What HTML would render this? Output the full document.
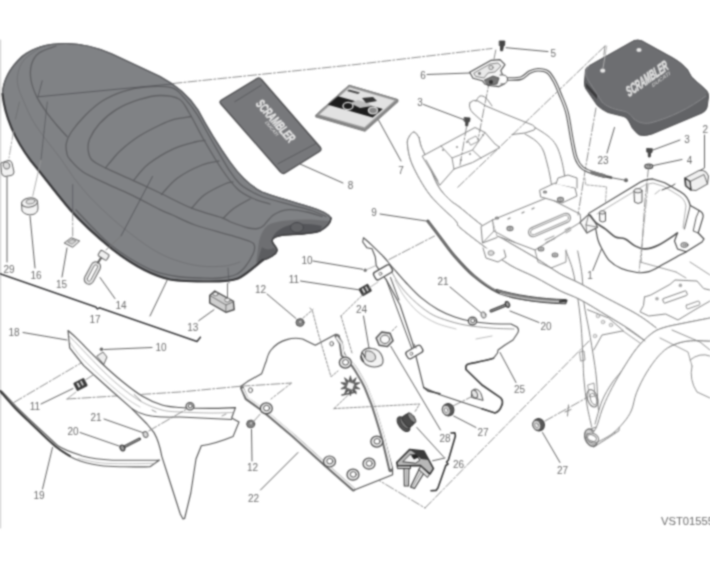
<!DOCTYPE html>
<html><head><meta charset="utf-8"><title>Seat</title>
<style>
html,body{margin:0;padding:0;background:#fff;}
body{width:710px;height:570px;overflow:hidden;}
svg{display:block;font-family:"Liberation Sans",sans-serif;}
</style></head><body>
<svg width="710" height="570" viewBox="0 0 710 570">
<defs><filter id="b" color-interpolation-filters="sRGB" filterUnits="userSpaceOnUse" x="0" y="0" width="710" height="570"><feConvolveMatrix order="5" kernelMatrix="0.00048 0.00501 0.01095 0.00501 0.00048 0.00501 0.05222 0.11405 0.05222 0.00501 0.01095 0.11405 0.24912 0.11405 0.01095 0.00501 0.05222 0.11405 0.05222 0.00501 0.00048 0.00501 0.01095 0.00501 0.00048" divisor="1" edgeMode="none"/></filter></defs>
<rect width="710" height="570" fill="#fff"/>
<g filter="url(#b)" stroke-linecap="round" stroke-linejoin="round">
<line x1="0.5" y1="40" x2="0.5" y2="528" stroke="#c8c8c8" stroke-width="1.2" />
<path d="M470,102.5 Q473,99 478,101 L486,106 L505,114 L532.5,125 Q537,128 534,130 L525,133 L512,134.5" stroke="#828282" stroke-width="1" fill="none" />
<path d="M470,102.5 Q468,108 473,113 L482,121" stroke="#828282" stroke-width="1" fill="none" />
<path d="M535,127.5 C537.2,128.9 544.5,133.1 548,136 C551.5,138.9 553.8,141.3 556,145 C558.2,148.7 559.7,153.5 561,158 C562.3,162.5 563.3,168.0 564,172 C564.7,176.0 564.8,180.3 565,182" stroke="#828282" stroke-width="1" fill="none" />
<path d="M525,134 C526.8,135.2 533.0,138.3 536,141 C539.0,143.7 541.2,146.3 543,150 C544.8,153.7 545.8,158.7 547,163 C548.2,167.3 549.2,171.8 550,176 C550.8,180.2 551.7,186.0 552,188" stroke="#828282" stroke-width="1" fill="none" />
<path d="M566,251 C567.1,254.2 570.9,263.0 572.7,270 C574.5,277.0 575.6,283.7 577,292.8 C578.4,301.9 580.0,313.3 581,324.5 C582.0,335.7 582.5,350.8 583,360 C583.5,369.2 583.3,372.5 584,380 C584.7,387.5 585.7,397.2 587,405 C588.3,412.8 590.9,423.3 591.7,427" stroke="#828282" stroke-width="1" fill="none" />
<path d="M577.7,251 C578.4,255.0 581.0,266.3 582,275 C583.0,283.7 582.8,294.2 584,303.4 C585.2,312.6 587.3,320.6 589,330 C590.7,339.4 592.7,351.7 594,360 C595.3,368.3 595.9,372.5 596.6,380 C597.3,387.5 597.4,397.7 598,405 C598.6,412.3 599.7,420.8 600,424" stroke="#828282" stroke-width="1" fill="none" />
<path d="M419,137.5 C419.3,138.9 420.0,143.1 421,146 C422.0,148.9 422.2,148.5 425,155 C427.8,161.5 433.3,177.5 437.5,185 C441.7,192.5 446.2,196.2 450,200 C453.8,203.8 454.2,202.9 460,207.5 C465.8,212.1 476.7,221.6 485,227.5 C493.3,233.4 501.7,238.0 510,243 C518.3,248.0 526.7,252.4 535,257.5 C543.3,262.6 552.5,269.5 560,273.8 C567.5,278.1 572.6,279.6 580,283.5 C587.4,287.4 595.2,291.9 604.6,297 C614.0,302.1 627.9,308.9 636.5,314 C645.1,319.1 652.8,325.4 656,327.7 L644,340 C641.5,338.2 635.2,333.1 629,329 C622.8,324.9 615.2,320.4 607,315.5 C598.8,310.6 587.8,303.6 580,299.5 C572.2,295.4 567.5,294.4 560,290.7 C552.5,286.9 543.3,281.3 535,277 C526.7,272.7 518.3,270.0 510,265 C501.7,260.0 493.3,253.2 485,247 C476.7,240.8 465.0,232.0 460,227.5 C455.0,223.0 460.0,225.4 455,220 C450.0,214.6 437.1,204.2 430,195 C422.9,185.8 416.2,173.3 412.5,165 C408.8,156.7 408.1,149.7 407.5,145 C406.9,140.3 407.9,139.2 409,137 C410.1,134.8 412.3,131.9 414,132 C415.7,132.1 418.2,136.6 419,137.5 Z" stroke="none" stroke-width="1" fill="#fff" />
<path d="M419,137.5 C419.3,138.9 420.0,143.1 421,146 C422.0,148.9 422.2,148.5 425,155 C427.8,161.5 433.3,177.5 437.5,185 C441.7,192.5 446.2,196.2 450,200 C453.8,203.8 454.2,202.9 460,207.5 C465.8,212.1 476.7,221.6 485,227.5 C493.3,233.4 501.7,238.0 510,243 C518.3,248.0 526.7,252.4 535,257.5 C543.3,262.6 552.5,269.5 560,273.8 C567.5,278.1 572.6,279.6 580,283.5 C587.4,287.4 595.2,291.9 604.6,297 C614.0,302.1 627.9,308.9 636.5,314 C645.1,319.1 652.8,325.4 656,327.7" stroke="#828282" stroke-width="1" fill="none" />
<path d="M644,340 C641.5,338.2 635.2,333.1 629,329 C622.8,324.9 615.2,320.4 607,315.5 C598.8,310.6 587.8,303.6 580,299.5 C572.2,295.4 567.5,294.4 560,290.7 C552.5,286.9 543.3,281.3 535,277 C526.7,272.7 518.3,270.0 510,265 C501.7,260.0 493.3,253.2 485,247 C476.7,240.8 465.0,232.0 460,227.5 C455.0,223.0 460.0,225.4 455,220 C450.0,214.6 437.1,204.2 430,195 C422.9,185.8 416.2,173.3 412.5,165 C408.8,156.7 408.1,149.7 407.5,145 C406.9,140.3 407.9,139.2 409,137 C410.1,134.8 412.3,131.9 414,132 C415.7,132.1 418.2,136.6 419,137.5" stroke="#828282" stroke-width="1" fill="none" />
<path d="M710,318 C705.9,318.8 693.4,321.2 685.6,322.8 C677.9,324.4 669.3,325.8 663.5,327.7 C657.7,329.6 655.5,330.5 651,334 C646.5,337.5 641.4,342.5 636.5,348.6 C631.6,354.7 625.9,365.0 621.8,370.7 C617.7,376.4 615.3,377.9 612,383 C608.7,388.1 604.8,394.2 602,401 C599.2,407.8 596.2,420.2 595,424 L616.3,421 C617.7,417.0 621.8,403.3 624.8,397 C627.8,390.7 631.0,388.2 634.6,383 C638.2,377.8 642.3,370.8 646.3,366 C650.3,361.2 654.5,357.3 658.6,354 C662.7,350.7 666.1,348.2 671,346 C675.9,343.8 681.5,341.8 688,341 C694.5,340.2 706.3,341.0 710,341 Z" stroke="none" stroke-width="1" fill="#fff" />
<path d="M710,318 C705.9,318.8 693.4,321.2 685.6,322.8 C677.9,324.4 669.3,325.8 663.5,327.7 C657.7,329.6 655.5,330.5 651,334 C646.5,337.5 641.4,342.5 636.5,348.6 C631.6,354.7 625.9,365.0 621.8,370.7 C617.7,376.4 615.3,377.9 612,383 C608.7,388.1 604.8,394.2 602,401 C599.2,407.8 596.2,420.2 595,424" stroke="#828282" stroke-width="1" fill="none" />
<path d="M616.3,421 C617.7,417.0 621.8,403.3 624.8,397 C627.8,390.7 631.0,388.2 634.6,383 C638.2,377.8 642.3,370.8 646.3,366 C650.3,361.2 654.5,357.3 658.6,354 C662.7,350.7 666.1,348.2 671,346 C675.9,343.8 681.5,341.8 688,341 C694.5,340.2 706.3,341.0 710,341" stroke="#828282" stroke-width="1" fill="none" />
<path d="M591.7,428.6 L615,420.8 Q620,424 619,430.7 L606.5,439 L593.8,447 Z" stroke="#828282" stroke-width="1" fill="#fff" />
<path d="M613,421.5 Q617,426 614.5,433.5" stroke="#828282" stroke-width="0.9" fill="none" />
<ellipse cx="591" cy="437.7" rx="5.8" ry="9" fill="#fff" stroke="#6e6e6e" stroke-width="1.5" transform="rotate(-22 591 437.7)"/>
<ellipse cx="591.3" cy="437.7" rx="4.2" ry="7.2" fill="none" stroke="#8a8a8a" stroke-width="0.8" transform="rotate(-22 591.3 437.7)"/>
<ellipse cx="592.4" cy="398.3" rx="5" ry="9" fill="none" stroke="#7a7a7a" stroke-width="1.2" transform="rotate(-18 592.4 398.3)"/>
<ellipse cx="593.5" cy="399" rx="3" ry="6" fill="none" stroke="#828282" stroke-width="0.9" transform="rotate(-18 593.5 399)"/>
<path d="M419,137.5 C419.3,138.9 420.0,143.1 421,146 C422.0,148.9 422.2,148.5 425,155 C427.8,161.5 433.3,177.5 437.5,185 C441.7,192.5 446.2,196.2 450,200 C453.8,203.8 454.2,202.9 460,207.5 C465.8,212.1 476.7,221.6 485,227.5 C493.3,233.4 501.7,238.0 510,243 C518.3,248.0 526.7,252.4 535,257.5 C543.3,262.6 552.5,269.5 560,273.8 C567.5,278.1 572.6,279.6 580,283.5 C587.4,287.4 595.2,291.9 604.6,297 C614.0,302.1 627.9,308.9 636.5,314 C645.1,319.1 652.8,325.4 656,327.7 L644,340 C641.5,338.2 635.2,333.1 629,329 C622.8,324.9 615.2,320.4 607,315.5 C598.8,310.6 587.8,303.6 580,299.5 C572.2,295.4 567.5,294.4 560,290.7 C552.5,286.9 543.3,281.3 535,277 C526.7,272.7 518.3,270.0 510,265 C501.7,260.0 493.3,253.2 485,247 C476.7,240.8 465.0,232.0 460,227.5 C455.0,223.0 460.0,225.4 455,220 C450.0,214.6 437.1,204.2 430,195 C422.9,185.8 416.2,173.3 412.5,165 C408.8,156.7 408.1,149.7 407.5,145 C406.9,140.3 407.9,139.2 409,137 C410.1,134.8 412.3,131.9 414,132 C415.7,132.1 418.2,136.6 419,137.5 Z" stroke="none" stroke-width="1" fill="#fff" />
<path d="M419,137.5 C419.3,138.9 420.0,143.1 421,146 C422.0,148.9 422.2,148.5 425,155 C427.8,161.5 433.3,177.5 437.5,185 C441.7,192.5 446.2,196.2 450,200 C453.8,203.8 454.2,202.9 460,207.5 C465.8,212.1 476.7,221.6 485,227.5 C493.3,233.4 501.7,238.0 510,243 C518.3,248.0 526.7,252.4 535,257.5 C543.3,262.6 552.5,269.5 560,273.8 C567.5,278.1 572.6,279.6 580,283.5 C587.4,287.4 595.2,291.9 604.6,297 C614.0,302.1 627.9,308.9 636.5,314 C645.1,319.1 652.8,325.4 656,327.7" stroke="#828282" stroke-width="1" fill="none" />
<path d="M644,340 C641.5,338.2 635.2,333.1 629,329 C622.8,324.9 615.2,320.4 607,315.5 C598.8,310.6 587.8,303.6 580,299.5 C572.2,295.4 567.5,294.4 560,290.7 C552.5,286.9 543.3,281.3 535,277 C526.7,272.7 518.3,270.0 510,265 C501.7,260.0 493.3,253.2 485,247 C476.7,240.8 465.0,232.0 460,227.5 C455.0,223.0 460.0,225.4 455,220 C450.0,214.6 437.1,204.2 430,195 C422.9,185.8 416.2,173.3 412.5,165 C408.8,156.7 408.1,149.7 407.5,145 C406.9,140.3 407.9,139.2 409,137 C410.1,134.8 412.3,131.9 414,132 C415.7,132.1 418.2,136.6 419,137.5" stroke="#828282" stroke-width="1" fill="none" />
<path d="M710,318 C705.9,318.8 693.4,321.2 685.6,322.8 C677.9,324.4 669.3,325.8 663.5,327.7 C657.7,329.6 655.5,330.5 651,334 C646.5,337.5 641.4,342.5 636.5,348.6 C631.6,354.7 626.3,363.3 621.8,370.7 C617.3,378.1 612.8,386.2 609.5,392.8 C606.2,399.4 604.2,404.1 602,410 C599.8,415.9 598.2,423.5 596,428 C593.8,432.5 590.2,435.5 589,437 L597,442.5 C599.5,441.1 607.5,437.4 612,434 C616.5,430.6 620.7,426.0 624,422 C627.3,418.0 629.5,414.9 631.6,410 C633.7,405.1 634.0,399.0 636.5,392.8 C639.0,386.6 642.6,379.1 646.3,373 C650.0,366.9 654.5,360.5 658.6,356 C662.7,351.5 666.1,348.5 671,346 C675.9,343.5 681.5,341.8 688,341 C694.5,340.2 706.3,341.0 710,341 Z" stroke="none" stroke-width="1" fill="#fff" />
<path d="M710,318 C705.9,318.8 693.4,321.2 685.6,322.8 C677.9,324.4 669.3,325.8 663.5,327.7 C657.7,329.6 655.5,330.5 651,334 C646.5,337.5 641.4,342.5 636.5,348.6 C631.6,354.7 626.3,363.3 621.8,370.7 C617.3,378.1 612.8,386.2 609.5,392.8 C606.2,399.4 604.2,404.1 602,410 C599.8,415.9 598.2,423.5 596,428 C593.8,432.5 590.2,435.5 589,437" stroke="#828282" stroke-width="1" fill="none" />
<path d="M597,442.5 C599.5,441.1 607.5,437.4 612,434 C616.5,430.6 620.7,426.0 624,422 C627.3,418.0 629.5,414.9 631.6,410 C633.7,405.1 634.0,399.0 636.5,392.8 C639.0,386.6 642.6,379.1 646.3,373 C650.0,366.9 654.5,360.5 658.6,356 C662.7,351.5 666.1,348.5 671,346 C675.9,343.5 681.5,341.8 688,341 C694.5,340.2 706.3,341.0 710,341" stroke="#828282" stroke-width="1" fill="none" />
<ellipse cx="592.5" cy="438" rx="6.5" ry="4.6" fill="#fff" stroke="#828282" stroke-width="1.1" transform="rotate(25 592.5 438)"/>
<ellipse cx="592" cy="438" rx="4.6" ry="3" fill="none" stroke="#828282" stroke-width="0.9" transform="rotate(25 592 438)"/>
<path d="M422.5,156 L441,146 L475,127.5 L485,132.5 L495,144 L500,147.5 L472.5,162.5 L454,169 L440,185 Z" stroke="#828282" stroke-width="1" fill="#fff" />
<path d="M441,146 L452,158 L472.5,150 L485,132.5 M452,158 L454,169 M426,160 L438,181" stroke="#828282" stroke-width="0.9" fill="none" />
<path d="M472.5,150 L481,158" stroke="#828282" stroke-width="0.9" fill="none" />
<circle cx="443" cy="150" r="1.1" fill="#999"/>
<circle cx="457" cy="147" r="1.1" fill="#999"/>
<circle cx="467" cy="142" r="1.1" fill="#999"/>
<circle cx="483" cy="135" r="1.1" fill="#999"/>
<circle cx="470" cy="154" r="1.1" fill="#999"/>
<circle cx="461" cy="160" r="1.1" fill="#999"/>
<path d="M468,140 L476,136 L479,141 L471,145 Z" stroke="#828282" stroke-width="0.8" fill="none" />
<path d="M492.5,220 L547.5,197.5 L580,214 L581,222 L535,250 L515,242.5 L497,236 Z" stroke="#828282" stroke-width="1" fill="#fff" />
<path d="M492.5,220 L481,226.5 L482.5,243 L497,237.5" stroke="#828282" stroke-width="1" fill="#fff" />
<path d="M492.5,220 L494,231 L482.5,243 M494,231 L515,242.5" stroke="#828282" stroke-width="0.9" fill="none" />
<g transform="rotate(-23.5 549.5 225)"><rect x="527" y="220.3" width="45" height="9.4" rx="4.7" fill="#fff" stroke="#828282" stroke-width="1"/><rect x="529" y="222.2" width="41" height="5.6" rx="2.8" fill="none" stroke="#828282" stroke-width="0.8"/></g>
<path d="M540,190 L555,183 L575,188 L577,196 L562,203 L541,197 Z" stroke="#828282" stroke-width="1" fill="#fff" />
<path d="M556,184 L558,178 L568,175 L577,178 L577,188" stroke="#828282" stroke-width="1" fill="#fff" />
<ellipse cx="510" cy="228.5" rx="3" ry="2.0999999999999996" fill="#d0d0d0" stroke="#707070" stroke-width="1.1"/>
<ellipse cx="510" cy="228.5" rx="1.2000000000000002" ry="0.8999999999999999" fill="#888"/>
<ellipse cx="560.5" cy="199.5" rx="3" ry="2.0999999999999996" fill="#d0d0d0" stroke="#707070" stroke-width="1.1"/>
<ellipse cx="560.5" cy="199.5" rx="1.2000000000000002" ry="0.8999999999999999" fill="#888"/>
<ellipse cx="541" cy="249" rx="2.8" ry="1.9599999999999997" fill="#d0d0d0" stroke="#707070" stroke-width="1.1"/>
<ellipse cx="541" cy="249" rx="1.1199999999999999" ry="0.84" fill="#888"/>
<ellipse cx="555" cy="255" rx="2.8" ry="1.9599999999999997" fill="#d0d0d0" stroke="#707070" stroke-width="1.1"/>
<ellipse cx="555" cy="255" rx="1.1199999999999999" ry="0.84" fill="#888"/>
<ellipse cx="497" cy="218" rx="1.5" ry="1.0499999999999998" fill="#d0d0d0" stroke="#707070" stroke-width="1.1"/>
<ellipse cx="497" cy="218" rx="0.6000000000000001" ry="0.44999999999999996" fill="#888"/>
<ellipse cx="545" cy="192" rx="1.5" ry="1.0499999999999998" fill="#d0d0d0" stroke="#707070" stroke-width="1.1"/>
<ellipse cx="545" cy="192" rx="0.6000000000000001" ry="0.44999999999999996" fill="#888"/>
<path d="M483,248 L486,258 L498,262 L506,257 L504,250" stroke="#828282" stroke-width="1" fill="#fff" />
<ellipse cx="491" cy="253" rx="3" ry="2.4" fill="#ddd" stroke="#828282" stroke-width="0.8"/>
<path d="M535,250 L538,262 L551,268 L566,262 L566,250" stroke="#828282" stroke-width="0.9" fill="none" />
<path d="M587.5,309.7 L608.6,318 L623.4,330.8 L602,335 L593.8,349.9" stroke="#828282" stroke-width="1" fill="none" />
<circle cx="598" cy="316" r="1.8" fill="#e8e8e8" stroke="#a5a5a5" stroke-width="0.8"/>
<circle cx="611" cy="325" r="1.8" fill="#e8e8e8" stroke="#a5a5a5" stroke-width="0.8"/>
<circle cx="595" cy="336" r="1.8" fill="#e8e8e8" stroke="#a5a5a5" stroke-width="0.8"/>
<circle cx="603" cy="322" r="1.8" fill="#e8e8e8" stroke="#a5a5a5" stroke-width="0.8"/>
<path d="M623,331 L640,343 M626,328 L645,341" stroke="#828282" stroke-width="0.8" fill="none" />
<path d="M580,352 L584,351 L585,360 L581,361 Z M588,385 L594,383 L595,396 L590,397 Z" stroke="#828282" stroke-width="0.8" fill="none" />
<path d="M644.5,297 L650.8,295 L670,284.4 L675,280 L697,281 L703.7,288.6 L710,290" stroke="#828282" stroke-width="1" fill="none" />
<path d="M644.5,297 L643.5,305.5 L640,311.8 L648.7,316 L665.6,314 L678,320 L695,309.7 L710,301" stroke="#828282" stroke-width="1" fill="none" />
<g transform="rotate(-19.5 675 297)"><rect x="662.5" y="294.6" width="25" height="4.8" rx="1" fill="#fff" stroke="#828282" stroke-width="0.9"/></g>
<g transform="rotate(-19.5 693 305)"><rect x="686" y="303" width="14" height="4" rx="1" fill="#fff" stroke="#828282" stroke-width="0.8"/></g>
<circle cx="657" cy="298.7" r="1.8" fill="#aaa"/>
<circle cx="680.4" cy="285.4" r="1.8" fill="#aaa"/>
<path d="M676,272 L686,278 M690,262 L710,275 M640,262 L676,272" stroke="#828282" stroke-width="0.8" fill="none" />
<path d="M672,330 L700,342 L710,350 M690,360 Q700,352 710,356 M692,366 Q689,380 697,392 L710,398" stroke="#828282" stroke-width="0.9" fill="none" />
<path d="M660,338 L688,352 L692,366" stroke="#828282" stroke-width="0.8" fill="none" />
<path d="M476,101 C476.7,100.2 478.3,96.5 480,96 C481.7,95.5 484.0,96.3 486,98 C488.0,99.7 491.0,104.7 492,106" stroke="#828282" stroke-width="1" fill="none" />
<path d="M545,240 L554,236 M546,242.5 L555,238.5 M565,230 L570,227.5 M566,233 L571,230" stroke="#828282" stroke-width="0.9" fill="none" />
<path d="M522,213 L524,212 M532,209 L534,208 M508,219 L510,218" stroke="#828282" stroke-width="1.2" fill="none" />
<path d="M173,83.5 L356,64.5 L492,48.5" stroke="#808080" stroke-width="0.9" fill="none" stroke-dasharray="9 2 2 2"/>
<path d="M605,46 L457,188" stroke="#808080" stroke-width="0.9" fill="none" stroke-dasharray="9 2 2 2"/>
<path d="M605,46 L602,70" stroke="#808080" stroke-width="0.9" fill="none" stroke-dasharray="9 2 2 2"/>
<path d="M596,108 L586,165 L578,215" stroke="#808080" stroke-width="0.9" fill="none" stroke-dasharray="9 2 2 2"/>
<path d="M67,399 L180,392 L241,386.2" stroke="#808080" stroke-width="0.9" fill="none" stroke-dasharray="9 2 2 2"/>
<line x1="67" y1="399" x2="76" y2="392" stroke="#8a8a8a" stroke-width="0.8" />
<path d="M425,508 L590,340" stroke="#808080" stroke-width="0.9" fill="none" stroke-dasharray="9 2 2 2"/>
<path d="M360,469 L425,508" stroke="#808080" stroke-width="0.9" fill="none" stroke-dasharray="9 2 2 2"/>
<path d="M545,421 L588,397" stroke="#808080" stroke-width="0.9" fill="none" stroke-dasharray="9 2 2 2"/>
<line x1="568.5" y1="405" x2="567.5" y2="416" stroke="#777" stroke-width="0.9" />
<line x1="565" y1="412" x2="571" y2="409.5" stroke="#777" stroke-width="0.9" />
<path d="M14,402.4 L81,363" stroke="#808080" stroke-width="0.9" fill="none" stroke-dasharray="9 2 2 2"/>
<path d="M2.5,94 C3,81 8,69.5 22,56.5 C34,46.5 50,43.5 66,43.5 C80,43.5 95,46.5 112,54 L160,76.5 C176,85 189,96 198,110 C207,127 218,145 230,162 C240,176 250,186 262,192 C272,196 290,201 310,207 C320,210 328,213 331,218 C331,222 327,227 320,231 C312,234 300,234 284,235 C276,236 272,238 272,241 C273,245 277,247 277,250 C277,254 270,258 263,260 C255,266 246,275 238,278.5 C232,281 222,281.5 210,281.5 C195,281.5 182,281.5 170,279.5 C150,275 130,263 112,249 C95,235 80,221 70,209.5 C55,192 42,174 31,161 C16,141 5,118 2.5,93 Z" stroke="#5c5d60" stroke-width="1.2" fill="#808285" />
<path d="M258.6,244 C260,236 263,229 268,225 C276,221 289,219.5 311.8,219.5 L329.6,221 C331,222 327,227 320,231 C312,234 300,234 284,235 C276,236 272,238 272,241 C273,245 277,247 277,250 C277,254 270,258 263,260 L256,263 Z" stroke="none" stroke-width="1" fill="#6e6f72" />
<path d="M272,239 C274,232 282,227 292,224.5 C300,223 312,224 322,226 L320,231 C312,234 300,234 284,235 C276,236 272,238 272,241 Z" stroke="none" stroke-width="1" fill="#55565a" />
<ellipse cx="297" cy="227.5" rx="6.5" ry="5" fill="#626366" stroke="#45464a" stroke-width="1"/>
<path d="M262,247 C265,250 270,250 274,248 L277,251 C276,255 270,258 263,260 L257,262.5 Z" stroke="none" stroke-width="1" fill="#5c5d60" />
<path d="M39,48.5 C36.5,50.4 27.5,55.9 24,60 C20.5,64.1 19.0,68.7 18,73 C17.0,77.3 17.0,81.2 18,86 C19.0,90.8 21.5,96.2 24,102 C26.5,107.8 29.2,114.5 33,121 C36.8,127.5 42.3,134.7 47,141 C51.7,147.3 56.5,152.8 61,159 C65.5,165.2 69.5,172.0 74,178 C78.5,184.0 83.0,189.5 88,195 C93.0,200.5 98.0,205.4 104,211 C110.0,216.6 116.0,222.2 124,228.5 C132.0,234.8 143.5,243.8 152,249 C160.5,254.2 167.0,257.2 175,260 C183.0,262.8 191.7,265.0 200,266 C208.3,267.0 218.3,266.7 225,266 C231.7,265.3 237.5,262.7 240,262" stroke="#727376" stroke-width="1" fill="none" />
<path d="M56,46 C53.2,47.2 43.1,49.9 39,53 C34.9,56.1 32.8,60.0 31.5,64.5 C30.2,69.0 30.1,74.6 31,80 C31.9,85.4 34.2,91.5 36.8,96.9 C39.4,102.3 43.1,107.5 46.6,112.4 C50.1,117.3 54.5,122.5 57.9,126.5 C61.3,130.5 65.5,134.8 67,136.5" stroke="#5f6063" stroke-width="1.3" fill="none" />
<path d="M326,216.5 C323.6,215.5 318.0,212.5 311.8,210.5 C305.6,208.5 297.1,206.6 289,204.3 C280.9,202.1 269.6,199.3 263,197 C256.4,194.7 253.4,192.6 249.6,190.4 C245.8,188.2 243.3,187.2 240,184 C236.7,180.8 234.7,178.6 230,171.4 C225.3,164.2 217.5,150.5 212,141 C206.5,131.5 201.6,121.6 197,114.4 C192.4,107.2 188.4,102.4 184.2,97.9 C180.0,93.5 178.2,89.5 171.6,87.7 C165.0,85.9 152.5,86.4 144.5,87 C136.5,87.6 130.4,89.0 123.4,91.3 C116.4,93.6 108.6,97.0 102.3,101 C96.0,105.0 90.6,110.0 85.4,115.2 C80.2,120.4 74.5,127.3 71.3,132 C68.1,136.7 67.0,139.7 66.3,143.4 C65.6,147.1 66.4,151.3 67,154 C67.6,156.7 67.4,156.6 70,159.5 C72.6,162.4 76.4,167.5 82.7,171.7 C89.0,175.8 99.5,180.4 108,184.4 C116.5,188.4 124.7,191.6 133.4,195.8 C142.1,200.0 153.5,206.5 160,209.7 C166.5,212.9 166.7,212.4 172.5,215 C178.3,217.6 185.4,221.6 195,225 C204.6,228.4 220.8,232.4 230,235.2 C239.2,237.9 245.9,239.7 250,241.5 C254.1,243.3 254.0,243.9 254.5,246 C255.0,248.1 254.6,250.5 253,254 C251.4,257.5 247.8,263.6 245,267 C242.2,270.4 240.2,272.7 236,274.5 C231.8,276.3 226.0,277.4 220,278 C214.0,278.6 207.2,278.2 200,278 C192.8,277.8 184.5,277.6 177,276.5 C169.5,275.4 162.4,274.1 155,271.4 C147.6,268.6 140.0,264.5 132.5,260 C125.0,255.5 116.8,249.9 110,244.4 C103.2,238.9 97.7,232.7 92,227 C86.3,221.3 78.7,212.8 76,210" stroke="#5f6063" stroke-width="1.3" fill="none" />
<path d="M270,204 C267.0,203.0 257.4,200.5 252,198 C246.6,195.5 242.4,193.7 237.5,189 C232.6,184.3 227.8,178.0 222.3,170 C216.8,162.0 210.0,150.5 204.5,141 C199.0,131.5 193.6,120.0 189.3,113 C185.1,106.0 183.9,101.9 179,99 C174.1,96.1 166.7,95.4 160,95.5 C153.3,95.6 146.2,97.4 138.9,99.7 C131.6,102.0 122.9,105.6 116.3,109.6 C109.7,113.6 103.9,118.8 99.4,123.7 C95.0,128.6 91.5,134.6 89.6,139 C87.7,143.4 87.8,146.9 88.2,150.4 C88.6,153.9 89.1,157.1 92,160 C94.9,162.9 98.6,164.5 105.5,167.9 C112.4,171.3 124.3,176.4 133.4,180.6 C142.5,184.8 150.3,188.4 160,193 C169.7,197.6 181.2,204.0 191.7,208.2 C202.2,212.4 216.7,216.0 223.2,218.3 C229.7,220.6 226.5,220.4 230.7,222 C234.9,223.6 243.9,226.9 248.5,228 C253.1,229.1 255.5,228.9 258,228.5 C260.5,228.1 261.1,227.8 263.7,225.5 C266.3,223.2 269.6,217.3 273.8,214.7 C278.0,212.0 283.5,210.0 289,209.6 C294.5,209.2 301.3,210.8 306.8,212 C312.3,213.2 319.5,215.8 322,216.5" stroke="#5f6063" stroke-width="1.3" fill="none" />
<path d="M105.5,167.9 C106.6,166.6 109.5,162.9 112,160 C114.5,157.1 116.1,154.3 120.6,150.4 C125.1,146.5 132.3,140.5 138.9,136.3 C145.5,132.1 154.2,127.8 160,125 C165.8,122.2 168.8,120.8 174,119.4 C179.2,118.0 188.2,117.0 191,116.5" stroke="#5f6063" stroke-width="1.3" fill="none" />
<path d="M133.4,180.6 C135.9,177.8 141.9,169.1 148.7,163.8 C155.5,158.5 166.3,152.2 174,148.6 C181.7,145.0 189.8,143.3 195,142 C200.2,140.7 203.3,140.8 205,140.5" stroke="#5f6063" stroke-width="1.3" fill="none" />
<path d="M161.3,194.6 C164.0,191.8 170.8,182.9 177.6,178 C184.4,173.1 195.1,167.8 202,165 C208.9,162.2 216.2,161.7 219,161" stroke="#5f6063" stroke-width="1.3" fill="none" />
<path d="M191.7,208.2 C193.8,206.0 199.1,198.8 204.6,194.8 C210.1,190.8 220.1,186.1 224.8,184 C229.5,181.9 231.6,182.3 233,182" stroke="#5f6063" stroke-width="1.3" fill="none" />
<path d="M223.2,218.3 C225.0,216.6 229.5,211.5 234,208.3 C238.5,205.1 247.3,200.6 250,199" stroke="#5f6063" stroke-width="1.3" fill="none" />
<path d="M2.5,94 C3,81 8,69.5 22,56.5 C34,46.5 50,43.5 66,43.5 C80,43.5 95,46.5 112,54 L160,76.5 C176,85 189,96 198,110 C207,127 218,145 230,162 C240,176 250,186 262,192 C272,196 290,201 310,207 C320,210 328,213 331,218 C331,222 327,227 320,231 C312,234 300,234 284,235 C276,236 272,238 272,241 C273,245 277,247 277,250 C277,254 270,258 263,260 C255,266 246,275 238,278.5 C232,281 222,281.5 210,281.5 C195,281.5 182,281.5 170,279.5 C150,275 130,263 112,249 C95,235 80,221 70,209.5 C55,192 42,174 31,161 C16,141 5,118 2.5,93 Z" stroke="#5c5d60" stroke-width="1.2" fill="none" />
<path d="M331,218 C331,222 327,227 320,231 C312,234 300,234 284,235 C276,236 272,238 272,241 C273,245 277,247 277,250 C277,254 270,258 263,260" stroke="#404042" stroke-width="1.4" fill="none" />
<path d="M2.5,94 C5,118 16,141 31,161 C42,174 55,192 70,209.5 C80,221 95,235 112,249 C130,263 150,275 170,279.5 C182,281.5 195,281.5 210,281.5 C222,281.5 232,281 238,278.5 C246,275 255,266 263,260" stroke="#3a3a3c" stroke-width="2.2" fill="none" />
<line x1="42.2" y1="80.8" x2="38" y2="96.8" stroke="#55565a" stroke-width="0.8" />
<line x1="38" y1="96.8" x2="171.6" y2="84" stroke="#55565a" stroke-width="0.9" />
<line x1="19.4" y1="102" x2="15.5" y2="119" stroke="#6c6d70" stroke-width="0.8" />
<path d="M13.5,131 L9,158" stroke="#a0a0a0" stroke-width="0.9" fill="none" stroke-dasharray="9 2 2 2"/>
<line x1="47.3" y1="102" x2="44" y2="132" stroke="#55565a" stroke-width="0.7" />
<line x1="44" y1="132" x2="41" y2="160" stroke="#55565a" stroke-width="0.7" />
<line x1="72.7" y1="184.6" x2="72.7" y2="212" stroke="#55565a" stroke-width="0.7" />
<line x1="152.5" y1="176.5" x2="121" y2="236" stroke="#55565a" stroke-width="0.9" />
<line x1="228" y1="268" x2="229" y2="283" stroke="#55565a" stroke-width="0.7" />
<path d="M221.5,100 L257,78.5 Q259.5,77 261.5,79.5 L320.5,147.5 Q322,150 319.5,151.5 L285,173 Q282.5,174.5 280.5,172 L220.5,103.5 Q219,101.5 221.5,100 Z" stroke="#4a4a4c" stroke-width="1.2" fill="#77787b" />
<line x1="234.8" y1="101.7" x2="261.4" y2="85.2" stroke="#5a5b5e" stroke-width="1" />
<line x1="277.9" y1="163.8" x2="316" y2="143.5" stroke="#5a5b5e" stroke-width="1" />
<g transform="translate(255.3,104.3) rotate(49)"><text x="0" y="0" font-size="13" font-weight="bold" font-style="italic" fill="#e6e6e6" stroke="#e6e6e6" stroke-width="0.5" textLength="52" lengthAdjust="spacingAndGlyphs">SCRAMBLER</text><text x="20" y="5" font-size="4.5" font-weight="bold" font-style="italic" fill="#d4d4d4" textLength="18" lengthAdjust="spacingAndGlyphs">DUCATI</text></g>
<line x1="300" y1="164" x2="343" y2="183" stroke="#5e5e5e" stroke-width="1" />
<text x="350.5" y="188.6" font-size="10" fill="#6a6a6a" text-anchor="middle">8</text>
<path d="M316,115 L349,85.3 L398,99.7 L398,101.7 L365,131.3 L316,117 Z" stroke="#7a7a7a" stroke-width="1" fill="#8f8f8f" />
<path d="M316,115 L349,85.3 L398,99.7 L365,129.3 Z" stroke="#7a7a7a" stroke-width="1" fill="#9c9c9c" />
<path d="M319.5,114.6 L349.5,87.6 L394.5,100.6 L364.5,127.3 Z" stroke="none" stroke-width="1" fill="#e2e2e2" />
<path d="M338,96.3 L328,104.8 L372.7,117.5 L382.8,109 Z" stroke="none" stroke-width="1" fill="#1c1c1c" />
<ellipse cx="348" cy="106" rx="5" ry="3.6" fill="none" stroke="#ddd" stroke-width="1.4"/>
<ellipse cx="373" cy="110.5" rx="4.6" ry="3.4" fill="#888" stroke="#ddd" stroke-width="1.4"/>
<path d="M350,103 L358,100 L368,103 L372,106 L360,108 Z" stroke="none" stroke-width="1" fill="#bdbdbd" />
<path d="M362,98 L373,97 L377,101 L366,103 Z" stroke="none" stroke-width="1" fill="#333" />
<path d="M349,89.5 L360,92.5 L358,94 L347,91 Z" stroke="none" stroke-width="1" fill="#444" />
<line x1="378.5" y1="120" x2="401" y2="161" stroke="#5e5e5e" stroke-width="1" />
<text x="401" y="173.6" font-size="10" fill="#6a6a6a" text-anchor="middle">7</text>
<path d="M634.5,40.5 Q638,39.5 642,41 L672,57.5 C680,62 684,66 687,69 C690,74 691,77 693,78.5 L706,90 Q709,93 708.5,97 L707,107.5 Q706,111 702,113 L652,134 Q645,136.5 639.5,135 C636,133 634,130 632,127.5 C629,121 627,117 622,116 L608,112.5 C603,110 600,108 597,105 L586,89 Q584,86 584.5,82 L585.5,70 Q586,67.5 589,66 Z" stroke="#4c4c4e" stroke-width="1" fill="#626366" />
<path d="M634.5,40.5 Q638,39.5 642,41 L672,57.5 C680,62 684,66 687,69 C690,74 691,77 693,78.5 L706,90 Q709,93 706,96 C690,108 670,118 650,123 C642,124 638,122 634,119 C630,114 628,112 623,111 C612,109 606,106 602,102 L588,80 C585,75 585,70 589,66 Z" stroke="#58585a" stroke-width="0.8" fill="#6d6e71" />
<path d="M706,96 C690,108 670,118 650,123 C642,124 638,122 634,119 C630,114 628,112 623,111 C612,109 606,106 602,102 L588,80 C585,75 585,70 589,66" stroke="#8c8d90" stroke-width="1" fill="none" />
<path d="M586,83 L597,95 L597,99 L586,87 Z" stroke="none" stroke-width="1" fill="#3a3a3c" />
<ellipse cx="602.7" cy="70.7" rx="2.6" ry="2.1" fill="#e6e6e6"/>
<ellipse cx="639" cy="50" rx="2.6" ry="2.1" fill="#e6e6e6"/>
<g transform="translate(629,97) rotate(-35) skewX(-10)"><text x="0" y="0" font-size="14" font-weight="bold" font-style="italic" fill="#e0e0e0" stroke="#e0e0e0" stroke-width="0.7" textLength="49" lengthAdjust="spacingAndGlyphs">SCRAMBLER</text><text x="26" y="5.5" font-size="5" font-weight="bold" font-style="italic" fill="#c8c8c8" textLength="22" lengthAdjust="spacingAndGlyphs">DUCATI</text></g>
<line x1="606.8" y1="46" x2="603" y2="68" stroke="#b5b5b5" stroke-width="0.9" />
<line x1="614.5" y1="127.5" x2="607" y2="153" stroke="#5e5e5e" stroke-width="1" />
<text x="603" y="163.6" font-size="10" fill="#6a6a6a" text-anchor="middle">23</text>
<path d="M1,163 L8,160.5 Q11,160 12,163 L14,172 Q14,175 11,175.5 L5,176.5 Q2,176 1.5,173 Z" stroke="#5e5e5e" stroke-width="1" fill="#f2f2f2" />
<ellipse cx="6.5" cy="165.5" rx="3.2" ry="3.6" fill="#ddd" stroke="#5e5e5e" stroke-width="0.8" transform="rotate(-20 6.5 165.5)"/>
<line x1="7" y1="177" x2="7" y2="262" stroke="#5e5e5e" stroke-width="1" />
<text x="9" y="273.1" font-size="10" fill="#6a6a6a" text-anchor="middle">29</text>
<path d="M21.5,203 L22,211 Q26,216 33,214.5 Q38,213 38,208 L37.5,201 Z" stroke="#5e5e5e" stroke-width="1" fill="#f4f4f4" />
<ellipse cx="29.5" cy="202.5" rx="8" ry="4.6" fill="#f4f4f4" stroke="#5e5e5e" stroke-width="1" transform="rotate(-8 29.5 202.5)"/>
<ellipse cx="30.5" cy="201.5" rx="4.5" ry="2.4" fill="#e0e0e0" stroke="#5e5e5e" stroke-width="0.7" transform="rotate(-8 30.5 201.5)"/>
<line x1="41" y1="160" x2="32.7" y2="196" stroke="#9a9a9a" stroke-width="0.8" />
<line x1="30" y1="216" x2="35" y2="268" stroke="#5e5e5e" stroke-width="1" />
<text x="36" y="279.1" font-size="10" fill="#6a6a6a" text-anchor="middle">16</text>
<path d="M64.5,242.8 L71.3,237.7 L79.7,241 L73,247 Z" stroke="#5e5e5e" stroke-width="1" fill="#e9e9e9" />
<path d="M68,242 L72,239.3 L76,241 L72.5,244 Z" stroke="#5e5e5e" stroke-width="0.6" fill="#cfcfcf" />
<path d="M72.7,212 L72.7,237" stroke="#8a8a8a" stroke-width="0.9" fill="none" stroke-dasharray="9 2 2 2"/>
<line x1="67" y1="248" x2="62" y2="277" stroke="#5e5e5e" stroke-width="1" />
<text x="61.5" y="288.1" font-size="10" fill="#6a6a6a" text-anchor="middle">15</text>
<g transform="rotate(-62 92.4 273)"><rect x="80.4" y="268.2" width="24" height="9.6" rx="4.8" fill="#e6e6e6" stroke="#5e5e5e" stroke-width="1"/><rect x="83.4" y="271.2" width="18" height="3.6" rx="1.8" fill="#fff" stroke="#5e5e5e" stroke-width="0.8"/></g>
<path d="M98,262.5 L101,258" stroke="#5e5e5e" stroke-width="2.2" fill="none" />
<g transform="rotate(32 103.6 255.3)"><rect x="98.6" y="252" width="10" height="6.6" rx="1.6" fill="#f0f0f0" stroke="#5e5e5e" stroke-width="1"/></g>
<line x1="106" y1="250" x2="121" y2="236" stroke="#777" stroke-width="0.8" />
<line x1="100" y1="277.5" x2="115" y2="298.6" stroke="#5e5e5e" stroke-width="1" />
<text x="121" y="309.1" font-size="10" fill="#6a6a6a" text-anchor="middle">14</text>
<path d="M0,273.7 L95.8,307 L97.5,309 L99.3,307.8 L197,341.5 L200.4,337.2" stroke="#38383a" stroke-width="1.5" fill="none" />
<text x="95" y="323.1" font-size="10" fill="#6a6a6a" text-anchor="middle">17</text>
<line x1="167.5" y1="279.5" x2="150" y2="316" stroke="#5e5e5e" stroke-width="1" />
<path d="M209.7,295.4 L214.8,291 L233.4,301.3 L234.2,309.7 L225.8,312.3 L209.7,303 Z" stroke="#404040" stroke-width="1.3" fill="#cfcfcf" />
<path d="M209.7,295.4 L226,305 L234,301.5 M226,305 L225.8,312.3" stroke="#5e5e5e" stroke-width="0.8" fill="none" />
<ellipse cx="215.5" cy="294" rx="2.6" ry="1.8" fill="#eee" stroke="#5e5e5e" stroke-width="0.8"/>
<ellipse cx="227.5" cy="300" rx="2.8" ry="2" fill="#eee" stroke="#5e5e5e" stroke-width="0.8"/>
<line x1="227.5" y1="283.5" x2="227.5" y2="298" stroke="#5e5e5e" stroke-width="0.9" />
<line x1="198.7" y1="320.7" x2="214" y2="309.7" stroke="#5e5e5e" stroke-width="1" />
<text x="192.8" y="331.1" font-size="10" fill="#6a6a6a" text-anchor="middle">13</text>
<path d="M495.8,50 L484.8,104.4 L478,140" stroke="#808080" stroke-width="0.9" fill="none" stroke-dasharray="9 2 2 2"/>
<path d="M507.6,79 C509.8,78.9 517.3,79.3 521,78.2 C524.7,77.1 526.8,73.6 529.6,72.2 C532.4,70.8 534.9,69.7 538,69.7 C541.1,69.7 545.2,70.1 548,72.2 C550.8,74.3 553.0,78.8 555,82.4 C557.0,86.0 558.0,89.0 560,94 C562.0,99.0 565.0,104.8 567,112.5 C569.0,120.2 570.5,132.4 572,140 C573.5,147.6 574.3,153.4 576,158 C577.7,162.6 579.3,165.1 582,167.5 C584.7,169.9 588.3,171.1 592,172.5 C595.7,173.9 602.0,175.4 604,176" stroke="#505050" stroke-width="3.6" fill="none" />
<path d="M507.6,79 C509.8,78.9 517.3,79.3 521,78.2 C524.7,77.1 526.8,73.6 529.6,72.2 C532.4,70.8 534.9,69.7 538,69.7 C541.1,69.7 545.2,70.1 548,72.2 C550.8,74.3 553.0,78.8 555,82.4 C557.0,86.0 558.0,89.0 560,94 C562.0,99.0 565.0,104.8 567,112.5 C569.0,120.2 570.5,132.4 572,140 C573.5,147.6 574.3,153.4 576,158 C577.7,162.6 579.3,165.1 582,167.5 C584.7,169.9 588.3,171.1 592,172.5 C595.7,173.9 602.0,175.4 604,176" stroke="#fff" stroke-width="1.4" fill="none" />
<path d="M604,176 L611,177.6" stroke="#555" stroke-width="2.6" fill="none" />
<path d="M611,177.6 L624,180" stroke="#555" stroke-width="0.9" fill="none" />
<circle cx="626" cy="180.3" r="2" fill="#666"/>
<path d="M592,172.5 L604,176" stroke="#777" stroke-width="3.6" fill="none" stroke-dasharray="1 1"/>
<path d="M469.6,72.2 L490.7,60.4 L500,59.6 L505,64.6 L500.8,70.6 L502.5,74.8 L505,79 L504.2,84 L499,86.6 L490.7,85.8 L484.8,84 L482.2,80.7 L473,78.2 Z" stroke="#505050" stroke-width="1.1" fill="#f6f6f6" />
<path d="M474,73 L490,64 L498,63 L501,66 L495,72 L488,73 L484,78 L476,76.5 Z" stroke="#666" stroke-width="0.8" fill="#e9e9e9" />
<circle cx="479.5" cy="73.5" r="1.4" fill="#777"/>
<circle cx="491" cy="67.5" r="2.2" fill="#ddd" stroke="#666" stroke-width="0.7"/>
<path d="M484.5,80 L493,76 L499,78 L497,84 L488,85.5 Z" stroke="#444" stroke-width="0.8" fill="#777" />
<circle cx="491" cy="82" r="2" fill="#333"/>
<path d="M500,75 Q507,74 507.6,79 Q507,85 501,84" stroke="#555" stroke-width="1" fill="#fff" />
<path d="M499.6,41 L504.8,41 L504.6,45.5 L503.6,45.5 L502.6,50.8 L500.6,50.8 L500.4,45.5 L499.6,45.5 Z" stroke="#333" stroke-width="0.8" fill="#444" />
<line x1="506" y1="47.7" x2="548" y2="51.6" stroke="#5e5e5e" stroke-width="1" />
<text x="553.2" y="57.4" font-size="10" fill="#6a6a6a" text-anchor="middle">5</text>
<line x1="427" y1="74.5" x2="470" y2="73" stroke="#5e5e5e" stroke-width="1" />
<text x="423" y="79.1" font-size="10" fill="#6a6a6a" text-anchor="middle">6</text>
<line x1="423.5" y1="104.5" x2="463.5" y2="119.5" stroke="#5e5e5e" stroke-width="1" />
<text x="420" y="106.1" font-size="10" fill="#6a6a6a" text-anchor="middle">3</text>
<path d="M464.5,117.6 L470,118 L469.6,121.6 L468.4,121.6 L467.6,126 L465.8,126 L465.6,121.4 L464.4,121.2 Z" stroke="#333" stroke-width="0.8" fill="#4a4a4a" />
<path d="M466.5,127 L460,165" stroke="#808080" stroke-width="0.9" fill="none" stroke-dasharray="9 2 2 2"/>
<path d="M647,148.5 L652.4,148.8 L652,152.4 L650.8,152.4 L650.2,157 L648.4,157 L648.2,152.2 L647,152 Z" stroke="#333" stroke-width="0.8" fill="#4a4a4a" />
<line x1="653" y1="150" x2="680" y2="140" stroke="#5e5e5e" stroke-width="1" />
<text x="687" y="143.1" font-size="10" fill="#6a6a6a" text-anchor="middle">3</text>
<ellipse cx="648.8" cy="166.3" rx="4" ry="2.3" fill="#bbb" stroke="#444" stroke-width="1.1"/>
<ellipse cx="648.8" cy="166.1" rx="1.6" ry="0.9" fill="#fff" stroke="#444" stroke-width="0.7"/>
<line x1="653.5" y1="165.5" x2="682" y2="159.5" stroke="#5e5e5e" stroke-width="1" />
<text x="689.5" y="163.6" font-size="10" fill="#6a6a6a" text-anchor="middle">4</text>
<path d="M648.5,168 L645,200 L641,262" stroke="#808080" stroke-width="0.9" fill="none" stroke-dasharray="9 2 2 2"/>
<text x="705.3" y="132.9" font-size="10" fill="#6a6a6a" text-anchor="middle">2</text>
<path d="M704.5,135 L704.5,168 L699,171" stroke="#5e5e5e" stroke-width="1" fill="none" />
<path d="M685,178 L699,170.5 Q703,169.5 706,172 L708.5,176 L707.5,184 L696,190.5 L690.5,190 L685.5,186 Z" stroke="#5e5e5e" stroke-width="1" fill="#f0f0f0" />
<path d="M685,178 L690,181.5 L691,190 M690,181.5 L704,174.5 L707.5,184" stroke="#5e5e5e" stroke-width="0.9" fill="none" />
<path d="M685,178 L690,181.5 L691,190 L686,186 Z" stroke="#333" stroke-width="1.2" fill="#ddd" />
<path d="M595.6,228 C596.0,230.0 597.0,236.7 598,240 C599.0,243.3 599.6,244.5 601.5,247.9 C603.4,251.3 606.1,257.2 609.4,260.7 C612.7,264.1 616.7,266.6 621.3,268.6 C625.9,270.6 632.4,272.0 637,272.5 C641.6,273.0 644.6,272.9 648.9,271.6 C653.2,270.3 657.5,267.4 662.7,264.6 C668.0,261.8 676.5,256.9 680.4,254.8 C684.3,252.7 685.3,252.3 686.3,251.8" stroke="#444" stroke-width="1.1" fill="none" />
<path d="M588.7,213.4 L636,184.8 Q644,179 652.8,178.9 L664.7,182.8 L680.4,191.7 Q688,196 690.3,205.5 L699.2,210.4 Q704,213 703,217.3 L698.2,233 L704,239 L702,242 L686.3,251.8 L677.5,248.9 L674.5,241 L677.5,233" stroke="#444" stroke-width="1.1" fill="none" />
<path d="M597,214 L638,189 Q646,183 653,183 L664,186.5 L678,195 Q685,199 686,206 L683,228" stroke="#9a9a9a" stroke-width="0.8" fill="none" />
<path d="M690.3,205.5 L684.4,229 M699.2,210.4 L696.2,217.3 L693.2,231 L698.2,233" stroke="#444" stroke-width="0.9" fill="none" />
<path d="M590,215 C590.9,216.2 593.0,219.9 595.6,222.3 C598.2,224.7 602.2,226.8 605.5,229.2 C608.8,231.6 612.1,235.4 615.4,237 C618.7,238.6 621.9,237.5 625.2,239 C628.5,240.5 631.7,244.2 635,245.9 C638.3,247.6 641.0,249.1 645,248.9 C649.0,248.8 653.3,247.7 658.7,245 C664.1,242.3 674.4,235.0 677.5,233" stroke="#4e4e4e" stroke-width="1.6" fill="none" />
<path d="M579.9,222.3 L588.7,214.4 L595.6,223.2 L597.6,227.2 L586.8,233 Z" stroke="#555" stroke-width="1.1" fill="#f8f8f8" />
<path d="M588.7,214.4 L586,225 L597.6,227.2 M586,225 L586.8,233" stroke="#666" stroke-width="0.8" fill="none" />
<path d="M648,184.8 L639,272.5" stroke="#9a9a9a" stroke-width="0.9" fill="none" stroke-dasharray="9 2 2 2"/>
<path d="M634,191 L634.5,202 Q638,205 642,202 L642,191" stroke="#444" stroke-width="0.9" fill="#fafafa" />
<ellipse cx="638" cy="190.7" rx="4" ry="2.2" fill="#eee" stroke="#444" stroke-width="0.8"/>
<path d="M599.5,213 L599.8,221 Q602.5,223 605.5,221 L605.5,213" stroke="#444" stroke-width="0.9" fill="#fafafa" />
<ellipse cx="602.5" cy="212.4" rx="3" ry="1.7" fill="#eee" stroke="#444" stroke-width="0.8"/>
<ellipse cx="684.4" cy="245" rx="3.6" ry="2.4" fill="#f4f4f4" stroke="#444" stroke-width="0.9"/>
<ellipse cx="684.4" cy="245" rx="1.6" ry="1" fill="#ddd" stroke="#444" stroke-width="0.6"/>
<path d="M662,190 L672,186 L675,184" stroke="#444" stroke-width="1" fill="none" />
<path d="M660,190 L655,194" stroke="#999" stroke-width="0.8" fill="none" />
<line x1="601.5" y1="248.9" x2="592.7" y2="270.6" stroke="#5e5e5e" stroke-width="1" />
<text x="590" y="279.1" font-size="10" fill="#6a6a6a" text-anchor="middle">1</text>
<path d="M584.8,177.9 L585.8,184.8 L606.5,186.8 L605.5,202.5" stroke="#999" stroke-width="0.9" fill="none" stroke-dasharray="2.5 1.5"/>
<path d="M363.5,237.7 C364.9,239.0 368.6,242.1 372,245.3 C375.4,248.5 380.4,253.4 383.8,257 C387.2,260.6 388.5,262.8 392.2,267 C395.9,271.2 401.0,277.4 405.8,282.5 C410.6,287.6 415.6,293.2 421,297.7 C426.4,302.2 432.3,306.3 437.9,309.5 C443.5,312.7 449.4,315.1 454.8,317 C460.2,318.9 464.1,319.9 470,321 C475.9,322.1 483.2,323.0 490,323.5 C496.8,324.0 507.5,323.9 511,324 L517,327 Q520,330 517,334 L513,340 L505,345 L498,350 L497.5,353 L493.4,358.3 C485,361 475,362.5 468.5,364 Q465,365 466,369.5 L482,385 L500.4,397.6 Q504,401 501.5,406 Q499.5,411.5 495,413 L482,408.8 L440,394.8 L423.7,387.5 L420,372.5 L412.5,342.5 L400,305 L387,281 L376.2,265.6 L375.3,257 L372,248.7 L367,247.8 L362.7,242 Z" stroke="#505050" stroke-width="1.1" fill="#fff" />
<path d="M389.7,268 C391.2,270.7 395.2,278.8 399,284 C402.8,289.2 407.4,294.6 412.5,299.4 C417.6,304.2 424.0,309.5 429.4,312.9 C434.8,316.3 438.7,317.6 444.6,319.6 C450.5,321.6 457.4,323.6 465,325 C472.6,326.4 481.8,327.3 490,328 C498.2,328.7 510.0,328.8 514,329" stroke="#8a8a8a" stroke-width="0.9" fill="none" />
<path d="M395,280 C396.5,282.7 400.2,290.7 404,296 C407.8,301.3 412.7,307.5 418,312 C423.3,316.5 429.7,320.2 436,323 C442.3,325.8 452.7,328.0 456,329" stroke="#b0b0b0" stroke-width="0.8" fill="none" />
<path d="M493.4,358.3 C485,361 475,362.5 468.5,364 Q465,365 466,369.5 L482,385 L500.4,397.6 Q504,401 501.5,406 Q499.5,411.5 495,413 L482,408.8" stroke="#444" stroke-width="1.7" fill="none" />
<path d="M423.7,387.5 L428,391 L440,393.7" stroke="#444" stroke-width="1.4" fill="none" />
<path d="M476,339 L492,336" stroke="#aaa" stroke-width="0.8" fill="none" />
<path d="M386,279 L412,349 M390.5,277.5 L399,300" stroke="#505050" stroke-width="1" fill="none" />
<g transform="rotate(-30 383 272.3)"><rect x="373.5" y="268" width="19" height="8.6" rx="2.5" fill="#fff" stroke="#4a4a4a" stroke-width="1.3"/><circle cx="380" cy="272.3" r="1.5" fill="none" stroke="#555" stroke-width="0.7"/></g>
<g transform="rotate(-30 413.5 352.5)"><rect x="406" y="348.5" width="17" height="8" rx="2.5" fill="#fff" stroke="#4a4a4a" stroke-width="1.3"/><circle cx="411" cy="352.5" r="1.5" fill="none" stroke="#555" stroke-width="0.7"/></g>
<path d="M414,344 L416,348" stroke="#555" stroke-width="0.9" fill="none" />
<ellipse cx="472.5" cy="321" rx="4.2" ry="3.8640000000000003" fill="#e6e6e6" stroke="#4a4a4a" stroke-width="1.2"/>
<ellipse cx="472.8" cy="320.7" rx="2.1" ry="1.9320000000000002" fill="#fff" stroke="#555" stroke-width="1"/>
<path d="M471.5,397 Q470.5,390 475,389 Q480,389.5 481.5,395 L483,400 Z" stroke="#505050" stroke-width="1" fill="#f2f2f2" />
<ellipse cx="474.6" cy="394" rx="2.6" ry="4.2" fill="#e6e6e6" stroke="#505050" stroke-width="0.9" transform="rotate(-25 474.6 394)"/>
<g transform="rotate(-30 365.2 290)"><rect x="359.7" y="285.7" width="11" height="8.6" rx="1" fill="#3a3a3a"/><rect x="362.5" y="287.3" width="1.8" height="5" fill="#ddd"/><rect x="366.3" y="287.3" width="1.8" height="5" fill="#ccc"/></g>
<circle cx="365.2" cy="270.3" r="1.7" fill="#777"/>
<path d="M367,269.5 L375,266" stroke="#999" stroke-width="0.8" fill="none" />
<path d="M369,288 L378,282" stroke="#999" stroke-width="0.8" fill="none" />
<line x1="313" y1="261" x2="362.7" y2="269.3" stroke="#5e5e5e" stroke-width="1" />
<text x="307" y="263.6" font-size="10" fill="#6a6a6a" text-anchor="middle">10</text>
<line x1="300.5" y1="281" x2="360" y2="290" stroke="#5e5e5e" stroke-width="1" />
<text x="294" y="283.1" font-size="10" fill="#6a6a6a" text-anchor="middle">11</text>
<path d="M388.9,259.6 L434.5,236" stroke="#808080" stroke-width="0.9" fill="none" stroke-dasharray="9 2 2 2"/>
<path d="M427.7,221 C429.4,223.1 433.1,228.0 437.6,233.8 C442.1,239.6 448.4,249.0 454.5,256 C460.6,263.0 466.9,270.1 474,276 C481.1,281.9 488.8,287.7 496.8,291.5 C504.8,295.3 513.1,297.0 522,298.6 C530.9,300.2 542.7,300.9 550,301.4 C557.3,301.9 563.2,301.4 565.8,301.4" stroke="#4a4a4a" stroke-width="2.8" fill="none" />
<path d="M427.7,221 C429.4,223.1 433.1,228.0 437.6,233.8 C442.1,239.6 448.4,249.0 454.5,256 C460.6,263.0 466.9,270.1 474,276 C481.1,281.9 493.0,288.9 496.8,291.5" stroke="#b0b0b0" stroke-width="0.8" fill="none" />
<path d="M496.8,291.5 C510,297 530,303 566,303.8 L566,299.6 C540,299 515,295 496.8,289.5 Z" stroke="#444" stroke-width="1" fill="#8a8a8a" />
<path d="M500,293.3 C515,298 540,301.5 564,301.8" stroke="#e0e0e0" stroke-width="0.9" fill="none" />
<path d="M560,301.5 L566.5,300.5" stroke="#333" stroke-width="2.2" fill="none" />
<line x1="380" y1="214" x2="426" y2="221" stroke="#5e5e5e" stroke-width="1" />
<text x="374" y="216.29999999999998" font-size="10" fill="#6a6a6a" text-anchor="middle">9</text>
<line x1="450" y1="287" x2="481" y2="312.7" stroke="#5e5e5e" stroke-width="1" />
<text x="443" y="285.3" font-size="10" fill="#6a6a6a" text-anchor="middle">21</text>
<ellipse cx="483.5" cy="315" rx="2.4" ry="3.2" fill="#ddd" stroke="#5e5e5e" stroke-width="0.9" transform="rotate(-20 483.5 315)"/>
<path d="M491,311 L506,305" stroke="#3a3a3a" stroke-width="3" fill="none" />
<path d="M491,311 L506,305" stroke="#ccc" stroke-width="0.9" fill="none" stroke-dasharray="1 1"/>
<ellipse cx="507.5" cy="304.4" rx="2" ry="3" fill="#999" stroke="#333" stroke-width="1.1" transform="rotate(-22 507.5 304.4)"/>
<line x1="510" y1="311" x2="539" y2="322.5" stroke="#5e5e5e" stroke-width="1" />
<text x="546" y="330.40000000000003" font-size="10" fill="#6a6a6a" text-anchor="middle">20</text>
<line x1="500" y1="352.5" x2="516" y2="382.5" stroke="#5e5e5e" stroke-width="1" />
<text x="519.5" y="393.1" font-size="10" fill="#6a6a6a" text-anchor="middle">25</text>
<path d="M68,330.5 C69.3,331.7 70.4,332.3 76,337.7 C81.6,343.1 93.8,355.8 101.4,363 C109.0,370.2 114.9,375.5 121.7,381 C128.5,386.5 135.3,392.0 142,396 C148.7,400.0 155.7,403.1 162,405 C168.3,406.9 171.9,406.9 180,407.5 C188.1,408.1 201.2,408.4 210.5,408.4 C219.8,408.4 231.3,407.7 235.5,407.6 L231.6,418 L239,422 L233,436.6 Q215,444 201.3,445.8 L196,459 L190.8,493 L184.6,518.5 L183,519 L180.3,514 L171,485 L161.8,456.3 Q159,441 154,432.6 L147,424 L131.8,408.7 L109,388.5 L83.7,365.6 L69.7,347.9 Z" stroke="#505050" stroke-width="1.1" fill="#fff" />
<path d="M131.8,408.7 Q138,413 146,415 Q157,417.8 180,417 L231.6,419.5" stroke="#505050" stroke-width="1" fill="none" />
<path d="M69,336 C70.5,337.5 72.5,339.3 78,345 C83.5,350.7 94.7,362.8 102,370 C109.3,377.2 115.3,382.7 122,388 C128.7,393.3 135.3,398.3 142,402 C148.7,405.7 155.7,408.3 162,410 C168.3,411.7 171.9,411.5 180,412 C188.1,412.5 201.7,412.9 210.5,413 C219.3,413.1 229.2,412.6 233,412.5" stroke="#a0a0a0" stroke-width="0.8" fill="none" />
<path d="M69.5,342 C71.6,344.7 76.1,351.7 82,358 C87.9,364.3 97.7,373.3 105,380 C112.3,386.7 120.2,393.5 126,398 C131.8,402.5 137.7,405.5 140,407" stroke="#b5b5b5" stroke-width="0.8" fill="none" />
<path d="M134.2,394.5 L141,401 M152,410 L156,412 M222,416 L226,414" stroke="#777" stroke-width="0.8" fill="none" />
<ellipse cx="190" cy="406.3" rx="4" ry="3.68" fill="#e6e6e6" stroke="#4a4a4a" stroke-width="1.2"/>
<ellipse cx="190.3" cy="406.0" rx="2.0" ry="1.84" fill="#fff" stroke="#555" stroke-width="1"/>
<circle cx="101.5" cy="349.3" r="1.8" fill="#666"/>
<path d="M97,356 L103,352 L107,357 L104,364 Z" stroke="#555" stroke-width="0.9" fill="#eee" />
<line x1="104" y1="349.5" x2="152" y2="347.5" stroke="#5e5e5e" stroke-width="1" />
<text x="161" y="350.6" font-size="10" fill="#6a6a6a" text-anchor="middle">10</text>
<line x1="23" y1="332.5" x2="67" y2="340" stroke="#5e5e5e" stroke-width="1" />
<text x="14" y="335.6" font-size="10" fill="#6a6a6a" text-anchor="middle">18</text>
<g transform="rotate(-28 80.5 384.5)"><rect x="74.5" y="380" width="12" height="9" rx="1" fill="#3a3a3a"/><rect x="77.5" y="381.5" width="1.8" height="5" fill="#ddd"/><rect x="81.5" y="381.5" width="1.8" height="5" fill="#ccc"/></g>
<line x1="41" y1="404" x2="73" y2="388.5" stroke="#5e5e5e" stroke-width="1" />
<text x="35" y="409.6" font-size="10" fill="#6a6a6a" text-anchor="middle">11</text>
<path d="M86,379.6 L93.8,374.5" stroke="#808080" stroke-width="0.9" fill="none" stroke-dasharray="9 2 2 2"/>
<line x1="104" y1="419" x2="142.5" y2="432.5" stroke="#5e5e5e" stroke-width="1" />
<text x="96" y="420.6" font-size="10" fill="#6a6a6a" text-anchor="middle">21</text>
<ellipse cx="145.5" cy="434.5" rx="2.4" ry="3" fill="#d8d8d8" stroke="#5e5e5e" stroke-width="0.9" transform="rotate(-25 145.5 434.5)"/>
<path d="M148.7,431 L186.8,409" stroke="#808080" stroke-width="0.9" fill="none" stroke-dasharray="9 2 2 2"/>
<path d="M124,447 L139.5,439" stroke="#3a3a3a" stroke-width="3" fill="none" />
<path d="M124,447 L139.5,439" stroke="#ccc" stroke-width="0.9" fill="none" stroke-dasharray="1 1"/>
<ellipse cx="122.4" cy="448" rx="2.2" ry="3.1" fill="#999" stroke="#333" stroke-width="1.1" transform="rotate(-25 122.4 448)"/>
<line x1="80" y1="432.5" x2="119" y2="446" stroke="#5e5e5e" stroke-width="1" />
<text x="73" y="434.6" font-size="10" fill="#6a6a6a" text-anchor="middle">20</text>
<path d="M0,391 C2.5,393.8 10.0,402.8 15,408 C20.0,413.2 23.3,416.2 30,422.5 C36.7,428.8 47.5,439.9 55,446 C62.5,452.1 67.5,455.8 75,459 C82.5,462.2 91.7,464.2 100,465.5 C108.3,466.8 116.7,466.6 125,466.8 C133.3,467.0 145.8,466.8 150,466.8 L159.5,460 L157.5,460.2 L112.5,460.3 C100,459.5 90,458 82.5,456 C72,452.5 64,450 57.5,445.5 L30,420 L16,406.5 L1.5,391 Z" stroke="#5a5a5a" stroke-width="1.1" fill="#fff" />
<path d="M78,458.5 C81.7,459.2 92.2,461.9 100,462.8 C107.8,463.7 116.0,463.6 125,463.7 C134.0,463.8 149.2,463.4 154,463.3" stroke="#b0b0b0" stroke-width="0.8" fill="none" />
<path d="M0,391 C2.5,393.8 10.0,402.8 15,408 C20.0,413.2 23.3,416.2 30,422.5 C36.7,428.8 48.3,440.4 55,446 C61.7,451.6 67.5,454.3 70,456" stroke="#3c3c3c" stroke-width="1.9" fill="none" />
<line x1="52.5" y1="447.5" x2="42.5" y2="489" stroke="#5e5e5e" stroke-width="1" />
<text x="39" y="499.1" font-size="10" fill="#6a6a6a" text-anchor="middle">19</text>
<path d="M241,386.3 L247.4,381.6 L261.6,373.7 C264,368 264.5,365 266.3,361 C267.5,356 268.5,353 271,350 C276,344 281,341 286.8,339.6 C292,338 298,338 302.6,339 L315.3,345.3 L335.8,334.2 L339,335.2 L342,348.4 L348.4,361 C354,369 358,375 362.6,383 C368,392 372,401 375.3,411.6 C379,421 382,430 384.7,440 L392.6,468.4 L392.6,474.7 L353,490.5 L324.7,465.3 L293,436.8 L261.6,410 L245.8,399 Z" stroke="#505050" stroke-width="1.1" fill="#fff" />
<path d="M336.5,336 L340.8,342.8 L342.5,355 L353,365.6 C357,371 359,375 361.8,379.6 C365,385 367,390 368.9,395.4 C372,402 374,408 375.9,414.7 C380,427 384,441 387,455 L390.5,470" stroke="#686868" stroke-width="4.2" fill="none" />
<path d="M337,337.5 L341.5,343.5 L343.3,354.5 L353.8,365 C357.5,370.5 360,375 362.6,379.3 C366,385 368,390 369.8,395 C373,402 375,408 376.8,414.5 C381,427 385,441 388,455 L391,468" stroke="#f0f0f0" stroke-width="2.2" fill="none" />
<path d="M242,388 L246.5,398.5 L262,409.5 L293.5,436 L325,464.5 L353.5,489.5" stroke="#686868" stroke-width="3.8" fill="none" />
<path d="M243,389 L247.3,397.8 L262.6,408.8 L294,435.3 L325.6,463.8 L353.8,488.6" stroke="#f0f0f0" stroke-width="1.8" fill="none" />
<ellipse cx="266.3" cy="408.4" rx="6" ry="5.5200000000000005" fill="#e6e6e6" stroke="#4a4a4a" stroke-width="1.2"/>
<ellipse cx="266.6" cy="408.09999999999997" rx="3.0" ry="2.7600000000000002" fill="#fff" stroke="#555" stroke-width="1"/>
<ellipse cx="345.3" cy="362.6" rx="6" ry="5.5200000000000005" fill="#e6e6e6" stroke="#4a4a4a" stroke-width="1.2"/>
<ellipse cx="345.6" cy="362.3" rx="3.0" ry="2.7600000000000002" fill="#fff" stroke="#555" stroke-width="1"/>
<ellipse cx="376.8" cy="441.6" rx="6" ry="5.5200000000000005" fill="#e6e6e6" stroke="#4a4a4a" stroke-width="1.2"/>
<ellipse cx="377.1" cy="441.3" rx="3.0" ry="2.7600000000000002" fill="#fff" stroke="#555" stroke-width="1"/>
<ellipse cx="369" cy="463.7" rx="6" ry="5.5200000000000005" fill="#e6e6e6" stroke="#4a4a4a" stroke-width="1.2"/>
<ellipse cx="369.3" cy="463.4" rx="3.0" ry="2.7600000000000002" fill="#fff" stroke="#555" stroke-width="1"/>
<ellipse cx="353" cy="474.7" rx="6" ry="5.5200000000000005" fill="#e6e6e6" stroke="#4a4a4a" stroke-width="1.2"/>
<ellipse cx="353.3" cy="474.4" rx="3.0" ry="2.7600000000000002" fill="#fff" stroke="#555" stroke-width="1"/>
<ellipse cx="329.5" cy="461.5" rx="6" ry="5.5200000000000005" fill="#e6e6e6" stroke="#4a4a4a" stroke-width="1.2"/>
<ellipse cx="329.8" cy="461.2" rx="3.0" ry="2.7600000000000002" fill="#fff" stroke="#555" stroke-width="1"/>
<ellipse cx="250.5" cy="390.2" rx="2" ry="2.4" fill="#fff" stroke="#505050" stroke-width="0.9"/>
<ellipse cx="331.7" cy="343.7" rx="1.8" ry="2.2" fill="#fff" stroke="#505050" stroke-width="0.9"/>
<path d="M312.5,311 L318.4,334 L331,376.8 L338,371" stroke="#808080" stroke-width="0.9" fill="none" stroke-dasharray="2.5 1.5"/>
<path d="M341,316 L352,353" stroke="#808080" stroke-width="0.9" fill="none" stroke-dasharray="2.5 1.5"/>
<path d="M364.5,293 L341,316" stroke="#808080" stroke-width="0.9" fill="none" stroke-dasharray="2.5 1.5"/>
<path d="M334,408.6 L419.7,404 L415,411.7" stroke="#808080" stroke-width="0.9" fill="none" stroke-dasharray="2.5 1.5"/>
<path d="M334,408.6 L349.6,393.7" stroke="#808080" stroke-width="0.9" fill="none" stroke-dasharray="2.5 1.5"/>
<path d="M310,308 L312.5,311" stroke="#808080" stroke-width="0.9" fill="none" stroke-dasharray="2.5 1.5"/>
<ellipse cx="300" cy="322.5" rx="4" ry="3.8" fill="#8a8a8a" stroke="#4a4a4a" stroke-width="1"/>
<ellipse cx="300.4" cy="321.9" rx="2" ry="1.8" fill="#bbb" stroke="#555" stroke-width="0.6"/>
<ellipse cx="250.7" cy="424" rx="4" ry="3.8" fill="#8a8a8a" stroke="#4a4a4a" stroke-width="1"/>
<ellipse cx="251.1" cy="423.4" rx="2" ry="1.8" fill="#bbb" stroke="#555" stroke-width="0.6"/>
<line x1="267" y1="294" x2="296" y2="318.5" stroke="#5e5e5e" stroke-width="1" />
<text x="260.5" y="292.6" font-size="10" fill="#6a6a6a" text-anchor="middle">12</text>
<line x1="251.5" y1="429.5" x2="252" y2="461" stroke="#5e5e5e" stroke-width="1" />
<text x="252.5" y="471.1" font-size="10" fill="#6a6a6a" text-anchor="middle">12</text>
<path d="M303,318 L313,309.5" stroke="#808080" stroke-width="0.9" fill="none" stroke-dasharray="2.5 1.5"/>
<line x1="260.5" y1="490" x2="298" y2="452.5" stroke="#5e5e5e" stroke-width="1" />
<text x="253.5" y="502.1" font-size="10" fill="#6a6a6a" text-anchor="middle">22</text>
<path d="M254,421 L262,412" stroke="#808080" stroke-width="0.9" fill="none" stroke-dasharray="9 2 2 2"/>
<path d="M241,386.2 L291.6,383 L271,399" stroke="#808080" stroke-width="0.9" fill="none" stroke-dasharray="9 2 2 2"/>
<g transform="translate(350.4,385.8)"><path d="M-1.6,-4 L0,-10 L1.6,-4 Z" fill="#555" stroke="#555" stroke-width="0.8" transform="rotate(0)"/><path d="M-1.6,-4 L0,-10 L1.6,-4 Z" fill="#555" stroke="#555" stroke-width="0.8" transform="rotate(36)"/><path d="M-1.6,-4 L0,-10 L1.6,-4 Z" fill="#555" stroke="#555" stroke-width="0.8" transform="rotate(72)"/><path d="M-1.6,-4 L0,-10 L1.6,-4 Z" fill="#555" stroke="#555" stroke-width="0.8" transform="rotate(108)"/><path d="M-1.6,-4 L0,-10 L1.6,-4 Z" fill="#555" stroke="#555" stroke-width="0.8" transform="rotate(144)"/><path d="M-1.6,-4 L0,-10 L1.6,-4 Z" fill="#555" stroke="#555" stroke-width="0.8" transform="rotate(180)"/><path d="M-1.6,-4 L0,-10 L1.6,-4 Z" fill="#555" stroke="#555" stroke-width="0.8" transform="rotate(216)"/><path d="M-1.6,-4 L0,-10 L1.6,-4 Z" fill="#555" stroke="#555" stroke-width="0.8" transform="rotate(252)"/><path d="M-1.6,-4 L0,-10 L1.6,-4 Z" fill="#555" stroke="#555" stroke-width="0.8" transform="rotate(288)"/><path d="M-1.6,-4 L0,-10 L1.6,-4 Z" fill="#555" stroke="#555" stroke-width="0.8" transform="rotate(324)"/><circle r="5.4" fill="#6a6a6a"/><rect x="-3" y="-3" width="6" height="6" fill="#f4f4f4" transform="rotate(20)"/></g>
<path d="M342,395 L356,392" stroke="#555" stroke-width="1.5" fill="none" />
<path d="M362,352 Q366,347 372,348.5 Q378,349 381,354 Q385,361 381.5,365 Q376,368.5 369,366 Q365,364.5 363,361.5 Q360,359 361,356 Z" stroke="#555" stroke-width="1.1" fill="#f4f4f4" />
<path d="M366,351 Q372,350 375,355 Q377,360 372,361.5 Q367,362 365,358 Z" stroke="#555" stroke-width="0.9" fill="#e0e0e0" />
<path d="M361,356 L363.5,361.5 M362.5,353 L365,357" stroke="#333" stroke-width="1.2" fill="none" />
<line x1="363.5" y1="316" x2="369" y2="348" stroke="#5e5e5e" stroke-width="1" />
<text x="361.5" y="313.1" font-size="10" fill="#6a6a6a" text-anchor="middle">24</text>
<polygon points="393.1,340.7 387.5,346.6 379.1,345.3 376.1,337.9 381.7,332.0 390.1,333.3" fill="#e4e4e4" stroke="#4e4e4e" stroke-width="1.4"/>
<ellipse cx="385" cy="339.3" rx="4.6" ry="4.2" fill="#fafafa" stroke="#5a5a5a" stroke-width="1"/>
<line x1="390.8" y1="346.3" x2="440.5" y2="430" stroke="#5e5e5e" stroke-width="1" />
<text x="445" y="442.1" font-size="10" fill="#6a6a6a" text-anchor="middle">28</text>
<path d="M392,331 L397,326" stroke="#808080" stroke-width="0.9" fill="none" stroke-dasharray="2.5 1.5"/>
<g transform="rotate(-38 407.2 421.3)"><ellipse cx="402.5" cy="421.3" rx="4.6" ry="8.6" fill="#555" stroke="#333" stroke-width="1"/><ellipse cx="404.5" cy="421.3" rx="3.6" ry="7" fill="#777" stroke="#333" stroke-width="0.8"/><rect x="404" y="415" width="9" height="12.6" rx="3" fill="#4a4a4a" stroke="#2e2e2e" stroke-width="0.9"/><ellipse cx="413" cy="421.3" rx="2.4" ry="6" fill="#8a8a8a" stroke="#2e2e2e" stroke-width="0.8"/></g>
<line x1="416.8" y1="427.5" x2="444" y2="457.3" stroke="#5e5e5e" stroke-width="1" />
<path d="M404,467 L404.3,486 L408.5,486 L409,467 Z" stroke="#3a3a3a" stroke-width="1.1" fill="#e4e4e4" />
<path d="M419.5,468.5 L410.5,487 L414.5,488.5 L424,473 Z" stroke="#3a3a3a" stroke-width="1.1" fill="#e4e4e4" />
<path d="M406.5,470 L406.5,485 M421,472 L412.5,487" stroke="#888" stroke-width="0.8" fill="none" />
<path d="M396.7,462.5 L409.8,449.4 L423.9,451 L433.5,468.7 L430,474 L420.4,465.5 L397.5,466 Z" stroke="#2e2e2e" stroke-width="1.5" fill="#b8b8b8" />
<path d="M409.8,449.4 L423.9,451 L429,460 L421,459 L415,453.5 Z" stroke="none" stroke-width="1" fill="#3a3a3a" />
<path d="M403,461.5 L410,454.5 L415,455 L420,460 L416,463 Z" stroke="#333" stroke-width="0.9" fill="#f2f2f2" />
<path d="M411,455.5 L416,454 L419,457 L414,459.5 Z" stroke="none" stroke-width="1" fill="#222" />
<path d="M397.5,466 L410.5,466 L410.5,468.6 L397.8,468.6 Z" stroke="#333" stroke-width="1" fill="#ddd" />
<path d="M421,466.5 L429.5,474.5 L427.5,477.5 L419,469.8 Z" stroke="#333" stroke-width="1" fill="#ddd" />
<line x1="432.6" y1="460.8" x2="445" y2="458" stroke="#5e5e5e" stroke-width="1" />
<path d="M451,433 L454.8,432.7 L455.4,436 L448.4,460 L446.6,462 L448,464 L445.8,465.5 L437.9,488 L436,490.4 L431,490.8" stroke="#333" stroke-width="1.6" fill="none" />
<text x="458.5" y="468.1" font-size="10" fill="#6a6a6a" text-anchor="middle">26</text>
<ellipse cx="448.3" cy="410" rx="5.6" ry="6.2" fill="#5a5a5a" stroke="#3e3e3e" stroke-width="1.1" transform="rotate(-20 447.5 410)"/>
<ellipse cx="446.3" cy="409.8" rx="4" ry="5.2" fill="#d2d2d2" stroke="#4a4a4a" stroke-width="0.9" transform="rotate(-20 447.5 410)"/>
<ellipse cx="446.1" cy="409.8" rx="1.7" ry="2.4" fill="#f2f2f2" stroke="#777" stroke-width="0.7" transform="rotate(-20 447.5 410)"/>
<ellipse cx="538.8" cy="425" rx="5.6" ry="6.2" fill="#5a5a5a" stroke="#3e3e3e" stroke-width="1.1" transform="rotate(-20 538 425)"/>
<ellipse cx="536.8" cy="424.8" rx="4" ry="5.2" fill="#d2d2d2" stroke="#4a4a4a" stroke-width="0.9" transform="rotate(-20 538 425)"/>
<ellipse cx="536.6" cy="424.8" rx="1.7" ry="2.4" fill="#f2f2f2" stroke="#777" stroke-width="0.7" transform="rotate(-20 538 425)"/>
<line x1="453.7" y1="416" x2="476" y2="427.5" stroke="#5e5e5e" stroke-width="1" />
<text x="483" y="436.1" font-size="10" fill="#6a6a6a" text-anchor="middle">27</text>
<line x1="542.5" y1="432.5" x2="560" y2="462.5" stroke="#5e5e5e" stroke-width="1" />
<text x="562.5" y="473.6" font-size="10" fill="#6a6a6a" text-anchor="middle">27</text>
<path d="M453,406 L471,397" stroke="#808080" stroke-width="0.9" fill="none" stroke-dasharray="9 2 2 2"/>
<text x="661" y="525" font-size="11.5" fill="#6a6a6a" textLength="53" lengthAdjust="spacingAndGlyphs">VST01555</text>
</g>
</svg>
</body></html>
